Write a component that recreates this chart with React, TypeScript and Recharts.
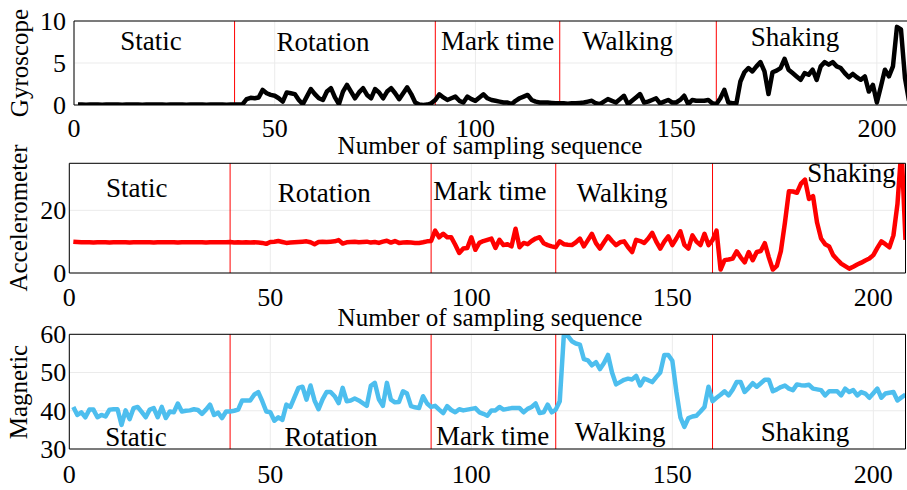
import React from "react";
import {
  CartesianGrid,
  Line,
  LineChart,
  ReferenceDot,
  ReferenceLine,
  XAxis,
  YAxis
} from "recharts";

// sampling index 1..208 for every sensor
const gyroscope = [
  0.05, 0.05, 0.04, 0.05, 0.05, 0.05, 0.04, 0.05, 0.05, 0.05,
  0.05, 0.04, 0.05, 0.05, 0.05, 0.05, 0.04, 0.05, 0.05, 0.05,
  0.05, 0.05, 0.04, 0.05, 0.05, 0.05, 0.05, 0.04, 0.05, 0.05,
  0.05, 0.05, 0.04, 0.05, 0.05, 0.05, 0.05, 0.04, 0.05, 0.05,
  0.05, 0.1, 0.7, 0.85, 0.8, 0.9, 1.8, 1.4, 1.2, 1.1,
  0.8, 0.4, 1.5, 1.4, 1.3, 0.6, 0.1, 1.0, 1.9, 1.3,
  0.8, 0.6, 1.6, 2.0, 0.9, 0.1, 1.6, 2.4, 1.6, 0.8,
  1.5, 2.0, 1.2, 0.8, 1.9, 1.5, 0.8, 1.6, 2.0, 1.4,
  0.7, 1.4, 2.1, 1.3, 0.3, 0.05, 0.0, 0.05, 0.2, 0.6,
  1.27, 0.9, 0.6, 0.8, 1.0, 0.5, 0.3, 1.0, 0.7, 0.5,
  0.9, 1.27, 0.8, 0.6, 0.5, 0.4, 0.3, 0.3, 0.1, 0.5,
  0.8, 1.0, 1.2, 0.6, 0.4, 0.3, 0.3, 0.3, 0.25, 0.2,
  0.2, 0.2, 0.15, 0.2, 0.2, 0.25, 0.3, 0.4, 0.5, 0.2,
  0.1, 0.4, 0.7, 0.5, 0.3, 0.7, 1.1, 0.1, 0.5, 0.9,
  1.3, 0.3, 0.4, 0.6, 0.8, 0.2, 0.4, 0.6, 0.3, 0.3,
  0.6, 1.1, 0.1, 0.6, 0.5, 0.5, 0.5, 0.6, 0.2, 0.1,
  0.8, 1.8, 0.3, 0.2, 0.2, 2.8, 3.9, 4.4, 4.0, 4.6,
  5.1, 4.0, 1.3, 3.9, 4.1, 4.4, 5.5, 4.2, 3.8, 3.4,
  3.0, 3.8, 3.6, 4.2, 3.0, 4.6, 5.1, 4.8, 5.1, 4.6,
  4.4, 3.8, 3.3, 3.7, 3.3, 3.0, 3.4, 1.6, 2.4, 0.3,
  2.2, 4.2, 3.4, 4.6, 9.3, 9.0, 3.2, 0.5
];

const accelerometer = [
  10.0, 9.9, 9.8, 9.8, 9.8, 9.7, 9.8, 9.8, 9.8, 9.7,
  9.8, 9.8, 9.8, 9.8, 9.7, 9.8, 9.8, 9.8, 9.8, 9.8,
  9.7, 9.8, 9.8, 9.8, 9.8, 9.8, 9.7, 9.8, 9.8, 9.8,
  9.8, 9.8, 9.8, 9.7, 9.8, 9.8, 9.8, 9.8, 9.8, 9.9,
  9.7, 9.8, 9.7, 9.8, 9.7, 9.8, 9.7, 9.6, 9.3, 9.9,
  10.0, 10.2, 9.9, 9.6, 9.7, 9.8, 9.9, 10.0, 10.1, 9.8,
  9.2, 9.9, 10.0, 9.9, 10.0, 10.1, 10.5, 9.4, 9.8, 9.9,
  10.0, 9.8, 9.9, 10.0, 9.7, 9.9, 9.6, 10.0, 10.3, 9.7,
  10.2, 9.6, 9.7, 9.8, 9.7, 9.6, 9.6, 9.8, 10.1, 10.2,
  13.5, 11.4, 12.5, 11.4, 11.4, 9.0, 6.4, 7.8, 8.0, 11.4,
  7.4, 9.6, 10.2, 10.6, 11.0, 8.0, 10.6, 8.9, 9.2, 8.5,
  14.1, 8.2, 9.6, 9.2, 10.2, 11.0, 11.4, 9.5, 8.9, 8.5,
  8.2, 10.1, 9.2, 9.0, 8.9, 9.8, 11.0, 8.5, 10.5, 12.5,
  9.5, 7.8, 9.8, 11.7, 10.2, 8.9, 9.8, 10.1, 8.2, 6.7,
  10.6, 10.2, 9.6, 11.0, 12.8, 10.0, 7.8, 10.0, 11.7, 8.9,
  11.0, 13.3, 9.0, 7.8, 12.0, 10.0, 8.9, 12.5, 8.9, 10.5,
  13.5, 1.1, 4.1, 4.3, 4.6, 6.9, 5.0, 3.4, 6.7, 4.1,
  6.7, 7.0, 9.5, 5.0, 1.1, 2.3, 7.0, 16.0, 26.1, 26.0,
  25.6, 28.5, 29.8, 23.6, 24.5, 16.1, 11.0, 9.2, 8.5, 5.7,
  4.3, 3.0, 2.2, 1.4, 2.0, 2.7, 3.3, 4.0, 4.6, 5.7,
  8.0, 10.1, 9.2, 8.2, 12.0, 22.0, 40.0, 10.6
];

const magnetic = [
  41.0, 38.9, 39.6, 38.3, 40.3, 40.3, 38.3, 38.9, 38.5, 40.3,
  40.4, 40.4, 36.3, 40.1, 37.8, 40.7, 41.0, 39.7, 38.3, 40.3,
  40.7, 38.3, 41.0, 38.1, 39.8, 39.6, 41.9, 39.8, 40.0, 40.1,
  40.4, 40.2, 39.2, 40.3, 41.6, 38.9, 39.5, 38.1, 39.8, 39.8,
  40.0, 40.3, 42.7, 42.7, 42.7, 44.2, 44.9, 42.5, 39.8, 39.6,
  37.4, 38.3, 37.6, 41.6, 41.0, 43.5, 46.0, 46.3, 42.9, 46.6,
  42.7, 40.4, 43.0, 44.9, 44.9, 43.8, 42.0, 46.0, 42.5, 42.7,
  43.2, 42.7, 42.0, 41.3, 46.5, 47.3, 43.0, 41.3, 47.3, 42.9,
  42.2, 42.3, 45.1, 44.5, 41.2, 40.9, 40.7, 43.8, 41.9, 41.0,
  41.3, 40.3, 39.4, 41.2, 40.2, 39.6, 40.4, 40.1, 40.3, 40.5,
  40.7, 39.6, 39.2, 38.7, 40.1, 40.1, 41.0, 40.3, 40.5, 40.7,
  40.7, 40.7, 39.6, 40.5, 41.0, 41.9, 39.4, 39.6, 41.6, 39.6,
  40.3, 42.5, 59.6, 59.6, 58.2, 57.6, 57.3, 53.5, 53.2, 51.9,
  52.7, 50.9, 52.5, 54.6, 50.0, 46.9, 47.5, 48.1, 48.4, 48.2,
  49.1, 46.6, 48.4, 48.0, 47.5, 48.8, 50.0, 54.6, 54.6, 53.1,
  45.0, 38.3, 35.8, 38.1, 38.5, 38.7, 39.8, 41.0, 46.3, 42.5,
  43.4, 44.2, 45.1, 44.0, 45.5, 47.5, 47.5, 44.9, 46.0, 47.2,
  46.3, 47.2, 48.1, 48.1, 45.1, 45.6, 46.2, 46.6, 45.8, 45.4,
  46.9, 46.7, 46.6, 46.8, 45.8, 45.6, 45.4, 44.0, 45.1, 45.1,
  45.1, 44.0, 45.8, 44.9, 45.4, 44.0, 44.9, 44.5, 43.4, 44.6,
  45.8, 43.4, 44.5, 44.7, 44.9, 42.7, 43.5, 44.2
];

const phaseBounds = [40, 90, 121, 160];
const phaseNames = ["Static", "Rotation", "Mark time", "Walking", "Shaking"];
const xTicks = [0, 50, 100, 150, 200];

const FONT = "Liberation Serif";

type Spot = { x: number; y: number };

type PanelProps = {
  top: number;
  width: number;
  height: number;
  plotTop: number;
  plotBottom: number;
  plotRight: number;
  axisWidth: number;
  yTickGap: number;
  xTickGap: number;
  values: number[];
  color: string;
  domain: [number, number];
  yTicks: number[];
  spots: Spot[];
};

// recharts drops the font on its own <text>, so ticks and labels are drawn here
const XTick = (props: any) => (
  <text x={props.x} y={props.y} dy="0.71em" textAnchor="middle" fontFamily={FONT} fontSize={26} fill="#000">
    {props.payload.value}
  </text>
);

const YTick = (props: any) => (
  <text x={props.x} y={props.y} dy="0.34em" textAnchor="end" fontFamily={FONT} fontSize={26} fill="#000">
    {props.payload.value}
  </text>
);

const phaseLabel = (name: string) => (props: any) => {
  const vb = props.viewBox || {};
  return (
    <text x={vb.x} y={vb.y} dy="0.34em" textAnchor="middle" fontFamily={FONT} fontSize={27} fill="#000">
      {name}
    </text>
  );
};

function Panel(p: PanelProps) {
  const rows = p.values.map((v, i) => ({ sample: i + 1, value: v }));
  const black = { stroke: "#000", strokeWidth: 1 };
  return (
    <div style={{ position: "absolute", left: 0, top: p.top, width: p.width, height: p.height }}>
      <LineChart
        width={p.width}
        height={p.height}
        data={rows}
        margin={{ top: p.plotTop, right: p.width - p.plotRight, bottom: 0, left: 0 }}
      >
        <CartesianGrid stroke="#ebebeb" />
        <XAxis
          dataKey="sample"
          type="number"
          domain={[0, 208]}
          ticks={xTicks}
          height={p.height - p.plotBottom}
          tickSize={0}
          tickMargin={p.xTickGap}
          tickLine={false}
          axisLine={black}
          tick={<XTick />}
          allowDataOverflow
        />
        <XAxis
          xAxisId="bottomTicks"
          dataKey="sample"
          type="number"
          domain={[0, 208]}
          ticks={xTicks}
          mirror
          tick={false}
          axisLine={false}
          tickLine={black}
          tickSize={7}
        />
        <XAxis
          xAxisId="topTicks"
          orientation="top"
          dataKey="sample"
          type="number"
          domain={[0, 208]}
          ticks={xTicks}
          mirror
          tick={false}
          axisLine={black}
          tickLine={black}
          tickSize={7}
        />
        <YAxis
          type="number"
          domain={p.domain}
          ticks={p.yTicks}
          width={p.axisWidth}
          tickSize={0}
          tickMargin={p.yTickGap}
          tickLine={false}
          axisLine={black}
          tick={<YTick />}
          allowDataOverflow
        />
        <YAxis
          yAxisId="leftTicks"
          type="number"
          domain={p.domain}
          ticks={p.yTicks}
          mirror
          tick={false}
          axisLine={false}
          tickLine={black}
          tickSize={7}
        />
        <YAxis
          yAxisId="rightTicks"
          orientation="right"
          type="number"
          domain={p.domain}
          ticks={p.yTicks}
          mirror
          tick={false}
          axisLine={black}
          tickLine={black}
          tickSize={7}
        />
        {phaseBounds.map((b) => (
          <ReferenceLine key={b} x={b} stroke="#ff0000" strokeWidth={1} />
        ))}
        <Line
          type="linear"
          dataKey="value"
          stroke={p.color}
          strokeWidth={4.5}
          strokeLinejoin="round"
          dot={false}
          isAnimationActive={false}
        />
        {p.spots.map((s, i) => (
          <ReferenceDot
            key={phaseNames[i]}
            x={s.x}
            y={s.y}
            r={0}
            fill="none"
            stroke="none"
            label={{ content: phaseLabel(phaseNames[i]) }}
          />
        ))}
      </LineChart>
    </div>
  );
}

export default function App() {
  const title = { fontFamily: FONT, fontSize: 25, fill: "#000" };
  return (
    <div
      style={{
        position: "fixed",
        left: 0,
        top: 0,
        width: 907,
        height: 490,
        overflow: "hidden",
        background: "#fff"
      }}
    >
      <Panel
        top={0}
        width={912}
        height={160}
        plotTop={21}
        plotBottom={105}
        plotRight={909}
        axisWidth={74}
        yTickGap={8}
        xTickGap={14}
        values={gyroscope}
        color="#000000"
        domain={[0, 10]}
        yTicks={[0, 5, 10]}
        spots={[
          { x: 19.2, y: 7.7 },
          { x: 62, y: 7.5 },
          { x: 105.5, y: 7.7 },
          { x: 137.9, y: 7.7 },
          { x: 179.6, y: 8.1 }
        ]}
      />
      <Panel
        top={150}
        width={907}
        height={180}
        plotTop={13.3}
        plotBottom={123}
        plotRight={905.5}
        axisWidth={69.3}
        yTickGap={3}
        xTickGap={15}
        values={accelerometer}
        color="#ff0000"
        domain={[0, 35]}
        yTicks={[0, 20]}
        spots={[
          { x: 16.8, y: 27.1 },
          { x: 63.4, y: 25.5 },
          { x: 104.6, y: 26.2 },
          { x: 137.5, y: 25.5 },
          { x: 194.6, y: 32 }
        ]}
      />
      <Panel
        top={320}
        width={907}
        height={170}
        plotTop={14.3}
        plotBottom={129}
        plotRight={905.5}
        axisWidth={69.3}
        yTickGap={3}
        xTickGap={16}
        values={magnetic}
        color="#4dbeee"
        domain={[30, 60]}
        yTicks={[30, 40, 50, 60]}
        spots={[
          { x: 16.6, y: 33.3 },
          { x: 65.1, y: 33.1 },
          { x: 105.3, y: 33.5 },
          { x: 137, y: 34.6 },
          { x: 183, y: 34.6 }
        ]}
      />
      <svg
        width={907}
        height={490}
        style={{ position: "absolute", left: 0, top: 0, pointerEvents: "none" }}
      >
        <text {...title} x={490} y={154} textAnchor="middle">Number of sampling sequence</text>
        <text {...title} x={490} y={326} textAnchor="middle">Number of sampling sequence</text>
        <text {...title} x={28} y={63} textAnchor="middle" transform="rotate(-90 28 63)">Gyroscope</text>
        <text {...title} x={27} y={218} textAnchor="middle" transform="rotate(-90 27 218)">Accelerometer</text>
        <text {...title} x={27} y={392} textAnchor="middle" transform="rotate(-90 27 392)">Magnetic</text>
      </svg>
    </div>
  );
}
